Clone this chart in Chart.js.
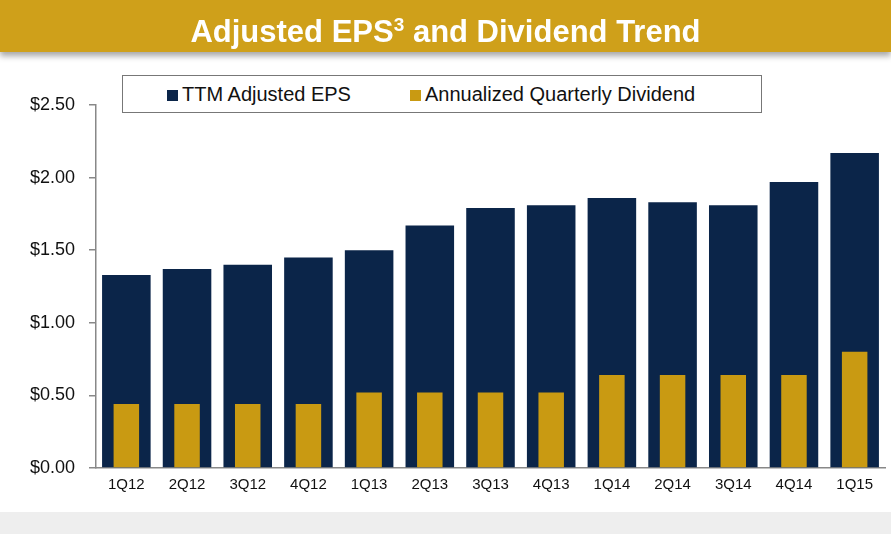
<!DOCTYPE html>
<html lang="en">
<head>
<meta charset="UTF-8">
<script src="https://cdn.jsdelivr.net/npm/chart.js"></script>
<style>
    body { margin: 0; width: 891px; height: 534px; background: #fff; font-family: Arial, "Liberation Sans", sans-serif; position: relative; overflow: hidden; }
    #title { height: 52px; background: #CFA01A; color: #fff; font-weight: bold; font-size: 31px; text-align: center; line-height: 50px; box-shadow: 0 4px 6px rgba(0,0,0,0.35); position: relative; z-index: 2; }
    #title sup { font-size: 19px; }
    #wrap { position: absolute; left: 0; top: 60px; width: 891px; height: 450px; }
    #legend { position: absolute; left: 122px; top: 75px; width: 638px; height: 36px; border: 1.5px solid #777; background: #fff; z-index: 3; font-size: 20px; line-height: 36px; color: #111; }
    #legend span.sw { display: inline-block; width: 11px; height: 11px; margin-right: 4px; }
    #foot { position: absolute; left: 0; top: 512px; width: 891px; height: 22px; background: #eee; }
</style>
</head>
<body>
<div id="title">Adjusted EPS<sup>3</sup> and Dividend Trend</div>
<div id="legend">
    <span style="position:absolute;left:44px"><span class="sw" style="background:#0B2549"></span>TTM Adjusted EPS</span>
    <span style="position:absolute;left:287px"><span class="sw" style="background:#C99A12"></span>Annualized Quarterly Dividend</span>
</div>
<div id="wrap"><canvas id="c" width="891" height="450"></canvas></div>
<div id="foot"></div>
<script>
    const quarters = ['1Q12','2Q12','3Q12','4Q12','1Q13','2Q13','3Q13','4Q13','1Q14','2Q14','3Q14','4Q14','1Q15'];
    const ttmEps = [1.33, 1.37, 1.40, 1.45, 1.50, 1.67, 1.79, 1.81, 1.86, 1.83, 1.81, 1.97, 2.17];
    const dividend = [0.44, 0.44, 0.44, 0.44, 0.52, 0.52, 0.52, 0.52, 0.64, 0.64, 0.64, 0.64, 0.80];

    new Chart(document.getElementById('c'), {
        type: 'bar',
        data: {
            labels: quarters,
            datasets: [
                { label: 'Annualized Quarterly Dividend', data: dividend, backgroundColor: '#C99A12', barPercentage: 0.42, categoryPercentage: 1, order: 1 },
                { label: 'TTM Adjusted EPS', data: ttmEps, backgroundColor: '#0B2549', barPercentage: 0.8, categoryPercentage: 1, order: 2 }
            ]
        },
        options: {
            responsive: false,
            animation: false,
            layout: { padding: { left: 0, right: 6, top: 45, bottom: 8 } },
            plugins: { legend: { display: false }, tooltip: { enabled: false } },
            scales: {
                x: {
                    stacked: true,
                    grid: { display: false, drawTicks: false },
                    border: { color: '#888', width: 1.5 },
                    ticks: { color: '#111', font: { size: 15, family: 'Arial, Liberation Sans' }, padding: 8 }
                },
                y: {
                    stacked: false,
                    min: 0, max: 2.5,
                    afterFit: s => { s.width = 96; },
                    grid: { display: true, drawTicks: true, drawOnChartArea: false, tickLength: 7, color: '#888', lineWidth: 1.5 },
                    border: { color: '#888', width: 1.5 },
                    ticks: {
                        stepSize: 0.5,
                        color: '#111',
                        font: { size: 18, family: 'Arial, Liberation Sans' },
                        padding: 14,
                        callback: v => '$' + v.toFixed(2)
                    }
                }
            }
        }
    });
</script>
</body>
</html>
